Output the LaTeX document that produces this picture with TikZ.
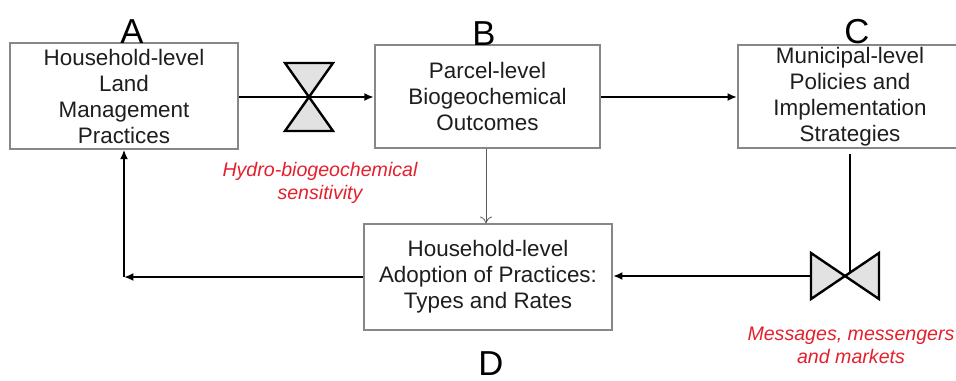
\documentclass[tikz,border=0pt]{standalone}
\usepackage{fontspec}
\setmainfont{Liberation Sans}
\usetikzlibrary{arrows.meta}
\definecolor{boxgray}{RGB}{135,135,135}
\definecolor{labelred}{RGB}{228,32,44}
\definecolor{valvefill}{RGB}{226,226,226}
\definecolor{textblack}{RGB}{30,30,30}
\tikzset{
  block/.style={draw=boxgray, line width=1.6pt, fill=white, align=center, inner sep=0pt,
    text=textblack, font=\fontsize{16.8}{19.5}\selectfont},
  flow/.style={line width=1.6pt, -{Latex[length=7pt,width=6pt]}},
  thinflow/.style={draw=black!65, line width=0.6pt, -{To[length=5pt,width=9pt]}},
  letter/.style={anchor=base, font=\fontsize{26}{26}\selectfont},
  note/.style={text=labelred, align=center, font=\fontsize{14.7}{17.3}\selectfont\itshape},
  valve/.style={fill=valvefill, draw=black, line width=1.8pt, line join=miter}
}

\begin{document}
\begin{tikzpicture}[x=0.75pt,y=-0.75pt]
  \useasboundingbox (0,0) rectangle (956,380);

  \node[block, minimum width=171pt, minimum height=79pt] (landmgmt) at (124,96)
    {Household-level\\Land\\Management\\Practices};
  \node[block, minimum width=169pt, minimum height=77pt] (parcel) at (487.5,96.5)
    {Parcel-level\\Biogeochemical\\Outcomes};
  \node[block, minimum width=168pt, minimum height=77pt] (policies) at (850,96.5)
    {Municipal-level\\Policies and\\Implementation\\Strategies};
  \node[block, minimum width=186pt, minimum height=79pt] (adoption) at (488,277)
    {Household-level\\Adoption of Practices:\\Types and Rates};

  \node[letter] (labA) at (132,43) {A};
  \node[letter] (labB) at (484,45) {B};
  \node[letter] (labC) at (857,43) {C};
  \node[letter] (labD) at (491,375) {D};

  \coordinate (v1) at (309,97);
  \coordinate (v2) at (845,276);
  \coordinate (corner) at (124,277);

  \draw[flow] (landmgmt.east |- v1) -- (parcel.west |- v1);
  \draw[flow] (parcel.east |- v1) -- (policies.west |- v1);
  \draw[thinflow] (parcel.south -| 486,0) -- (adoption.north -| 486,0);
  \draw[line width=1.6pt, shorten <=4pt] (policies.south) -- (policies.south |- v2);
  \draw[flow] (v2) -- (adoption.east |- v2);
  \draw[flow] (adoption.west |- corner) -- (corner);
  \draw[flow] (corner) -- (landmgmt.south);

  \filldraw[valve, shift={(v1)}] (-24,-34) -- (24,-34) -- (0,0) -- cycle
    (-24,34) -- (24,34) -- (0,0) -- cycle;
  \filldraw[valve, shift={(v2)}] (-34,-23) -- (-34,23) -- (0,0) -- cycle
    (34,-23) -- (34,23) -- (0,0) -- cycle;

  \node[note] (sens) at (320,183) {Hydro-biogeochemical\\sensitivity};
  \node[note] (msgs) at (851,345) {Messages, messengers\\and markets};
\end{tikzpicture}
\end{document}
